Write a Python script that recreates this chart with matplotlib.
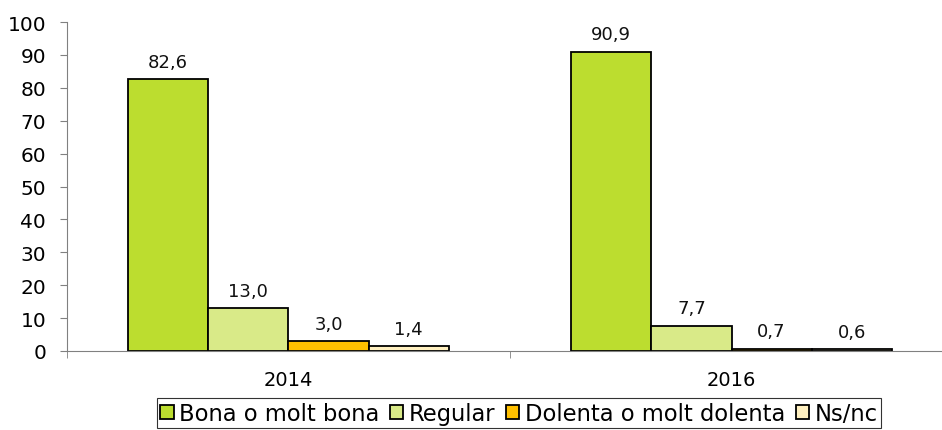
import numpy as np
import matplotlib.pyplot as plt

plt.rcParams['font.family'] = ['DejaVu Sans']

years = ["2014", "2016"]
labels = ["Bona o molt bona", "Regular", "Dolenta o molt dolenta", "Ns/nc"]
bona = [82.6, 90.9]
regular = [13.0, 7.7]
dolenta = [3.0, 0.7]
nsnc = [1.4, 0.6]
colors = ["#bcdd2f", "#d9ea88", "#ffc000", "#fff0c0"]

series = [bona, regular, dolenta, nsnc]

fig = plt.figure(figsize=(9.42, 4.31), dpi=100)
# right edge of the axes runs a little past the image, as in the original
ax = fig.add_axes([0.0711, 0.1833, 0.9406, 0.7633])

x = np.arange(len(years))
w = 0.181
for i, vals in enumerate(series):
    pos = x + (i - 1.5) * w
    bars = ax.bar(pos, vals, w, color=colors[i], edgecolor="black", linewidth=1.3, label=labels[i])
    for b, v in zip(bars, vals):
        ax.text(b.get_x() + b.get_width() / 2, v + 3.8, f"{v:.1f}".replace(".", ","),
                ha="center", va="baseline", fontsize=13, color="#111111")

ax.set_xlim(-0.5, 1.5)
ax.set_ylim(0, 100)
ax.set_yticks(range(0, 101, 10))
ax.set_xticks(x)
ax.set_xticklabels(years)
ax.set_xticks([-0.5, 0.5, 1.5], minor=True)
ax.tick_params(axis="x", which="major", length=0, labelsize=14, pad=14)
ax.tick_params(axis="x", which="minor", length=5, color="#808080")
ax.tick_params(axis="y", length=5, labelsize=14.5, color="#808080", pad=10)
ax.spines["top"].set_visible(False)
ax.spines["right"].set_visible(False)
ax.spines["left"].set_color("#808080")
ax.spines["bottom"].set_color("#808080")

leg = fig.legend(loc="lower center", bbox_to_anchor=(0.551, -0.022), ncol=4, fontsize=16.3,
                 frameon=True, fancybox=False, edgecolor="black", handlelength=0.6,
                 handleheight=0.6, handletextpad=0.25, columnspacing=0.45, borderpad=0.15)
leg.get_frame().set_linewidth(0.8)

fig.savefig("out.png", dpi=100)
